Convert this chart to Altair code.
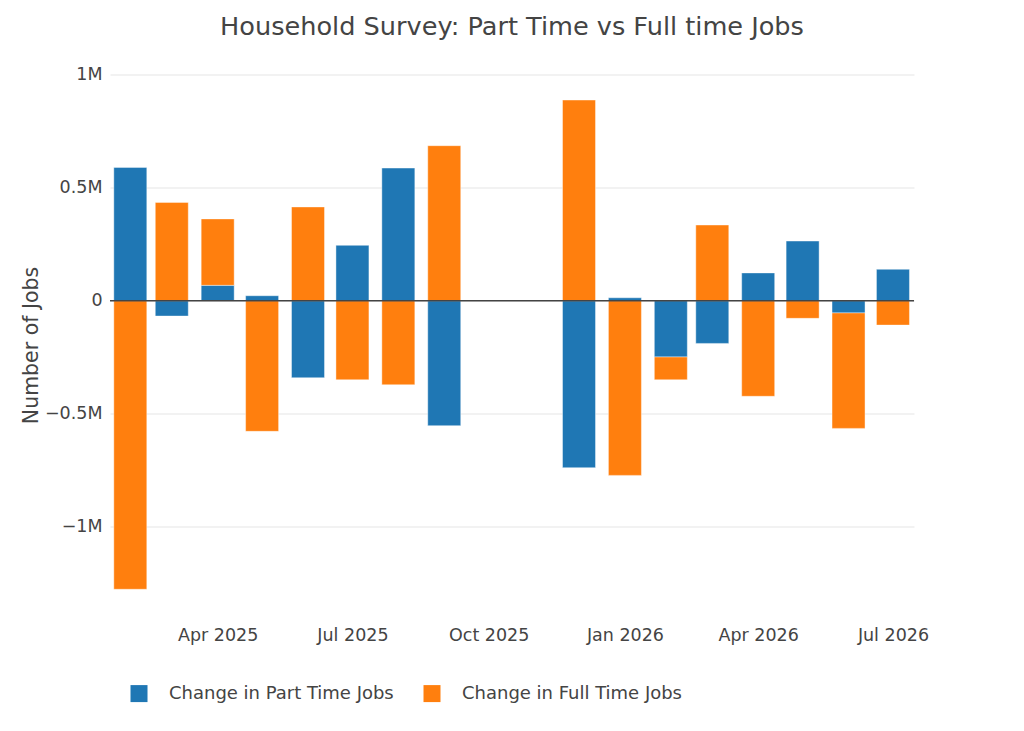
import altair as alt
import pandas as pd

# Data (thousands of jobs)
months = ["2025-02-01", "2025-03-01", "2025-04-01", "2025-05-01", "2025-06-01",
          "2025-07-01", "2025-08-01", "2025-09-01", "2025-12-01", "2026-01-01",
          "2026-02-01", "2026-03-01", "2026-04-01", "2026-05-01", "2026-06-01",
          "2026-07-01"]
part_time = [590, -68, 68, 22, -341, 245, 587, -553, -739, 13, -249, -189, 123, 264, -54, 139]
full_time = [-1277, 435, 294, -578, 415, -350, -372, 686, 888, -773, -101, 335, -423, -78, -511, -108]
series = ["Change in Part Time Jobs", "Change in Full Time Jobs"]
colors = ["#1f77b4", "#ff7f0e"]
y_ticks = [-1000000, -500000, 0, 500000, 1000000]
x_ticks = [(2025, 4), (2025, 7), (2025, 10), (2026, 1), (2026, 4), (2026, 7)]

rows = []
for i, m in enumerate(months):
    rows.append({"month": m, "series": series[0], "order": 0, "value": part_time[i] * 1000})
    rows.append({"month": m, "series": series[1], "order": 1, "value": full_time[i] * 1000})
df = pd.DataFrame(rows)

FONT = "DejaVu Sans"
TXT = "#444444"

x_enc = alt.X(
    "month:T",
    scale=alt.Scale(
        type="utc",
        domain=[alt.DateTime(year=2025, month=1, date=18, hours=7, utc=True),
                alt.DateTime(year=2026, month=7, date=15, hours=5, utc=True)],
        nice=False, padding=0),
    axis=alt.Axis(
        values=[alt.DateTime(year=y, month=m, date=1, utc=True) for y, m in x_ticks],
        labelExpr="utcFormat(datum.value, '%b %Y')",
        grid=False, ticks=False, domain=False, labelPadding=10,
        labelFontSize=17.5, labelFont=FONT, labelColor=TXT, title=None),
)

y_enc = alt.Y(
    "value:Q",
    stack="zero",
    scale=alt.Scale(domain=[-1397000, 1005000], nice=False, zero=False),
    axis=alt.Axis(
        values=y_ticks,
        labelExpr="datum.value == 0 ? '0' : (datum.value < 0 ? '\u2212' : '') + format(abs(datum.value) / 1000000, '') + 'M'",
        grid=True, gridColor="#eeeeee", gridWidth=1.5, domain=False, ticks=False,
        labelPadding=8, labelFontSize=17.5, labelFont=FONT, labelColor=TXT,
        title="Number of Jobs", titleFontSize=20.5, titleFont=FONT, titleFontWeight="normal",
        titleColor=TXT, titleX=-79, titleY=271.4, titleBaseline="middle", titleAngle=-90),
)

bars = alt.Chart(df).mark_bar(size=33, stroke="#ffffff", strokeWidth=0.7, strokeOpacity=0.6).encode(
    x=x_enc,
    y=y_enc,
    color=alt.Color(
        "series:N",
        scale=alt.Scale(domain=series, range=colors),
        legend=alt.Legend(
            orient="none", legendX=20, legendY=611, direction="horizontal", title=None,
            symbolType="square", symbolSize=289, symbolStrokeWidth=0, symbolOpacity=1,
            labelFontSize=18, labelFont=FONT, labelColor=TXT, labelOffset=21,
            labelLimit=500, columnPadding=29, padding=0),
    ),
    order=alt.Order("order:Q"),
)

zero_df = pd.DataFrame({"value": [0]})
zero_line = alt.Chart(zero_df).mark_rule(color="#444444", strokeWidth=1.5).encode(y="value:Q")

chart = alt.layer(bars, zero_line).properties(
    width=804,
    height=542.8,
    title=alt.TitleParams(
        "Household Survey: Part Time vs Full time Jobs",
        fontSize=25.6, font=FONT, fontWeight="normal", color=TXT,
        anchor="middle", baseline="alphabetic", offset=5),
    autosize=alt.AutoSizeParams(type="none"),
    padding={"left": 102, "top": 65.6, "right": 102, "bottom": 100},
    background="white",
).configure_view(stroke=None)

chart.save("out.html", embed_options={"renderer": "svg", "actions": False})
